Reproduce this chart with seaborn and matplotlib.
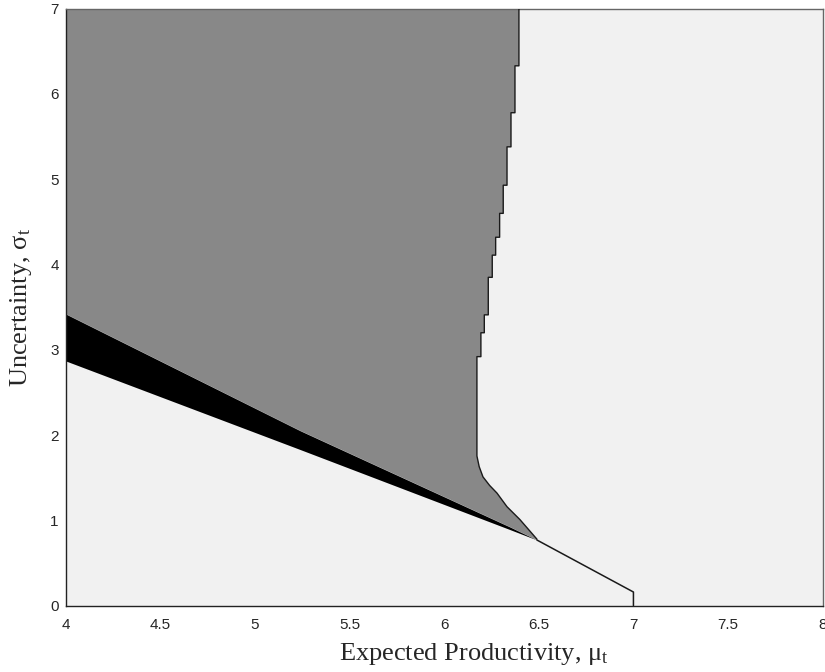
import matplotlib
matplotlib.use("Agg")
import matplotlib.pyplot as plt
import seaborn as sns

sns.set_style("white")
plt.rcParams['font.family'] = ['Liberation Sans', 'DejaVu Sans']
plt.rcParams['mathtext.fontset'] = 'custom'
plt.rcParams['mathtext.rm'] = 'Liberation Serif'
plt.rcParams['mathtext.it'] = 'Liberation Serif:italic'

# Boundary between the dark-gray region and the light region (staircase part)
step_x = [6.395, 6.374, 6.353, 6.332, 6.312, 6.293, 6.272, 6.254, 6.233, 6.212, 6.194, 6.173]
step_y = [7.00, 6.33, 5.78, 5.38, 4.93, 4.60, 4.32, 4.11, 3.85, 3.41, 3.20, 2.92, 1.755]

# Curved lower part of that boundary, ending where it meets the black band
knee_x = [6.173, 6.185, 6.205, 6.240, 6.279, 6.332, 6.400, 6.49]
knee_y = [1.755, 1.63, 1.51, 1.41, 1.32, 1.16, 1.01, 0.78]

# Black band: upper and lower edges
band_x = [4.0, 5.24, 6.35, 6.49]
band_upper = [3.42, 2.05, 0.92, 0.77]
band_lower = [2.87, 1.83, 0.89, 0.77]

# Thin tail boundary down to the axis
tail_x = [6.49, 7.0, 7.0]
tail_y = [0.77, 0.16, 0.0]

x_ticks = [4, 4.5, 5, 5.5, 6, 6.5, 7, 7.5, 8]
x_tick_labels = ['4', '4.5', '5', '5.5', '6', '6.5', '7', '7.5', '8']
y_ticks = [0, 1, 2, 3, 4, 5, 6, 7]

LIGHT = '#f1f1f1'
GRAY = '#888888'

fig = plt.figure(figsize=(8.25, 6.72), dpi=100)
ax = fig.add_axes([0.0796, 0.0987, 0.9176, 0.8884])
ax.set_facecolor(LIGHT)

# staircase boundary path followed by the curved knee
bx, by = [], []
for i, x in enumerate(step_x):
    bx += [x, x]
    by += [step_y[i], step_y[i + 1]]
bx += knee_x[1:]
by += knee_y[1:]

# dark-gray region polygon
poly_x = [4.0] + bx + band_x[::-1]
poly_y = [7.0] + by + band_upper[::-1]
ax.fill(poly_x, poly_y, color=GRAY, lw=0, zorder=1)

# black band
ax.fill_between(band_x, band_lower, band_upper, color='black', lw=0, zorder=2)

# boundary lines
sns.lineplot(x=bx, y=by, sort=False, estimator=None, color='#1a1a1a', lw=1.0, ax=ax, zorder=3)
sns.lineplot(x=tail_x, y=tail_y, sort=False, estimator=None, color='#1a1a1a', lw=1.1, ax=ax, zorder=3)

ax.set_xlim(4, 8)
ax.set_ylim(0, 7)
ax.set_xticks(x_ticks)
ax.set_xticklabels(x_tick_labels)
ax.set_yticks(y_ticks)
ax.tick_params(axis='both', labelsize=11, length=3, width=0.8, direction='out', color='black')
ax.tick_params(axis='x', pad=6)
ax.tick_params(axis='y', pad=2)

for side in ['left', 'bottom']:
    ax.spines[side].set_color('#222222')
    ax.spines[side].set_linewidth(1.0)
for side in ['top', 'right']:
    ax.spines[side].set_color('#666666')
    ax.spines[side].set_linewidth(1.0)

ax.set_xlabel(r'Expected Productivity, μ$_{\mathrm{t}}$', family='Liberation Serif', fontsize=19)
ax.set_ylabel(r'Uncertainty, σ$_{\mathrm{t}}$', family='Liberation Serif', fontsize=19)
ax.xaxis.set_label_coords(0.539, -0.06)
ax.yaxis.set_label_coords(-0.042, 0.5)

fig.savefig('out.png', dpi=100)
